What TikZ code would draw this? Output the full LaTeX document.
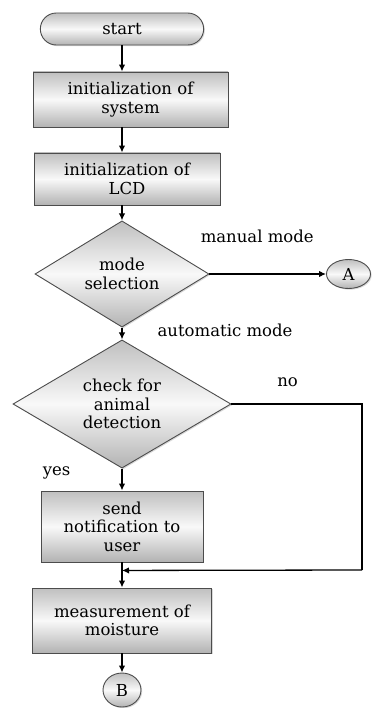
\documentclass[tikz,border=0pt]{standalone}
\usepackage{fontspec}
\setmainfont{DejaVu Serif}
\usetikzlibrary{positioning,arrows.meta,calc,shapes.geometric,shapes.misc,shadows}
\tikzset{
    on grid,
    auto,
    shade box/.style = {
        draw=gray!60!black,
        line width=0.9pt,
        top color=gray!50,
        bottom color=gray!60,
        middle color=gray!5,
        drop shadow={shadow xshift=1.2pt, shadow yshift=-1.2pt, opacity=0.3}
    },
    block/.style = {
        shade box,
        shape=rectangle,
        align=center,
        inner sep=2pt
    },
    terminal/.style = {
        shade box,
        shape=rounded rectangle,
        minimum height=32pt,
        minimum width=170pt
    },
    decision/.style = {
        shade box,
        shape=diamond,
        align=center,
        inner sep=0pt
    },
    connector/.style = {
        shade box,
        shape=ellipse,
        inner sep=0pt
    },
    lbl/.style = {
        inner sep=0pt
    },
    flow/.style = {
        draw,
        ->,
        line width=1.3pt
    },
    >={Latex[length=7pt,width=6.5pt]},
}

\begin{document}
\begin{tikzpicture}[font=\fontsize{16.5pt}{18.5pt}\selectfont]
    \useasboundingbox (0,0) rectangle (372pt,-708pt);

    \node[terminal] (start) at (122pt,-29pt) {start};
    \node[block, below=70.5pt of start, xshift=8.5pt, minimum width=195pt, minimum height=55pt] (sys) {initialization of\\system};
    \node[block, below=79.5pt of sys, xshift=-3.5pt, minimum width=186pt, minimum height=52pt] (lcd) {initialization of\\LCD};
    \node[decision, below=95pt of lcd, xshift=-5pt, minimum width=174pt, minimum height=92pt] (mode) {mode\\selection};
    \node[connector, right=226.5pt of mode, minimum width=44pt, minimum height=29pt] (A) {A};
    \node[decision, below=130pt of mode, minimum width=218pt, minimum height=118pt] (check) {check for\\animal\\detection};
    \node[block, below=122.5pt of check, minimum width=162pt, minimum height=71pt] (send) {send\\notification to\\user};
    \node[block, below=94pt of send, minimum width=179pt, minimum height=65pt] (meas) {measurement of\\moisture};
    \node[connector, below=69.5pt of meas, minimum width=38pt, minimum height=34pt] (B) {B};

    \coordinate (merge) at ($(send.south)+(0,-8pt)$);
    \coordinate (noturn) at (362pt,-570pt);

    % main line
    \path[flow] (start.south) -- (start.south |- sys.north);
    \path[flow] (sys.south -| start) -- (lcd.north -| start);
    \path[flow] (lcd.south -| start) -- (mode.north);
    \path[flow] (mode.east) -- node[lbl, pos=0.41, yshift=31pt] {manual mode} (A.west);
    \path[flow] (mode.south) -- node[lbl, pos=0.2, right, xshift=35pt] {automatic mode} (check.north);
    \path[flow] (check.south) -- node[lbl, pos=0.2, left, xshift=-51pt] {yes} (send.north);
    \path[flow] (send.south) -- (meas.north);
    \path[flow] (meas.south) -- (B.north);

    % no branch
    \path[draw, line width=1.3pt] (check.east) -- node[lbl, pos=0.43, yshift=17pt] {no} (check.east -| noturn) -- (noturn);
    \path[flow] (noturn) -- (merge);
\end{tikzpicture}
\end{document}
